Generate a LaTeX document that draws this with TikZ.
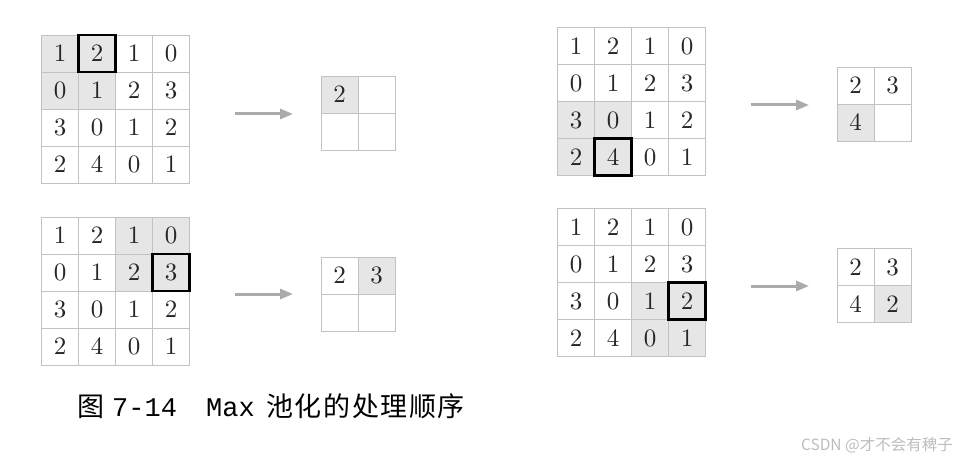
\documentclass[tikz,border=0pt]{standalone}
\usepackage{fontspec}
\newfontfamily\cjk{Noto Sans CJK SC}
\newfontfamily\cjksp{Noto Sans CJK SC}[LetterSpace=6]
\newfontfamily\mono{Liberation Mono}
\newfontfamily\dig{lmroman10-regular}[Extension=.otf]
\usetikzlibrary{arrows.meta}
\definecolor{shade}{HTML}{E6E6E6}
\definecolor{gline}{HTML}{C2C2C2}
\definecolor{arr}{HTML}{ABABAB}
\definecolor{wm}{HTML}{BDBDBD}
\definecolor{ink}{HTML}{262626}
\colorlet{w}{white}
\colorlet{g}{shade}
\tikzset{
  cell/.style={draw=gline, line width=0.9pt, minimum size=37pt, inner sep=0pt, outer sep=0pt,
    text=ink, font=\dig\fontsize{25}{25}\selectfont},
  hl/.style={draw=black, line width=2.2pt},
  flow/.style={draw=arr, line width=3pt, -{Triangle[length=13pt,width=10pt]}},
  captxt/.style={anchor=base west, inner sep=0pt, font=\fontsize{27}{27}\selectfont},
}
\newcommand\mkgrid[5]{%
  \foreach \v/\s [count=\i from 0] in {#5} {
    \pgfmathtruncatemacro\rr{int(\i/#4)}
    \pgfmathtruncatemacro\cc{mod(\i,#4)}
    \node[cell, fill=\s] (#1-\rr-\cc) at ({#2+37*\cc+18.5},{#3+37*\rr+18.5}) {\v};
  }
}
\begin{document}
\begin{tikzpicture}[x=1pt,y=-1pt]
\fill[white] (0,0) rectangle (957,465);
\useasboundingbox (0,0) rectangle (957,465);
% top-left
\mkgrid{ga}{41.5}{35}{4}{1/g,2/g,1/w,0/w, 0/g,1/g,2/w,3/w, 3/w,0/w,1/w,2/w, 2/w,4/w,0/w,1/w}
\draw[hl] (ga-0-1.north west) rectangle (ga-0-1.south east);
\mkgrid{oa}{321}{76}{2}{2/g,{}/w,{}/w,{}/w}
\coordinate (as) at (235,114); \coordinate (ae) at (293,114);
\draw[flow] (as) -- (ae);
% bottom-left
\mkgrid{gb}{41.5}{217}{4}{1/w,2/w,1/g,0/g, 0/w,1/w,2/g,3/g, 3/w,0/w,1/w,2/w, 2/w,4/w,0/w,1/w}
\draw[hl] (gb-1-3.north west) rectangle (gb-1-3.south east);
\mkgrid{ob}{321}{257}{2}{2/w,3/g,{}/w,{}/w}
\coordinate (bs) at (235,294); \coordinate (be) at (293,294);
\draw[flow] (bs) -- (be);
% top-right
\mkgrid{gc}{557.5}{27.5}{4}{1/w,2/w,1/w,0/w, 0/w,1/w,2/w,3/w, 3/g,0/g,1/w,2/w, 2/g,4/g,0/w,1/w}
\draw[hl] (gc-3-1.north west) rectangle (gc-3-1.south east);
\mkgrid{oc}{837}{67}{2}{2/w,3/w,4/g,{}/w}
\coordinate (cs) at (751,105); \coordinate (ce) at (809,105);
\draw[flow] (cs) -- (ce);
% bottom-right
\mkgrid{gd}{557.5}{208.5}{4}{1/w,2/w,1/w,0/w, 0/w,1/w,2/w,3/w, 3/w,0/w,1/g,2/g, 2/w,4/w,0/g,1/g}
\draw[hl] (gd-2-3.north west) rectangle (gd-2-3.south east);
\mkgrid{od}{837}{248.5}{2}{2/w,3/w,4/w,2/g}
\coordinate (ds) at (751,286); \coordinate (de) at (809,286);
\draw[flow] (ds) -- (de);
% caption
\node[captxt] (c1) at (77,416.5) {\cjk 图};
\node[captxt] (c2) at (112,416.5) {\mono 7-14};
\node[captxt] (c3) at (206,416.5) {\mono Max};
\node[captxt] (c4) at (266,416.5) {\cjksp 池化的处理顺序};
% watermark
\node[anchor=east, inner sep=0pt, text=wm, font=\cjk\fontsize{15.5}{15.5}\selectfont] (wmk) at (953,445) {CSDN @才不会有稗子};
\end{tikzpicture}
\end{document}
